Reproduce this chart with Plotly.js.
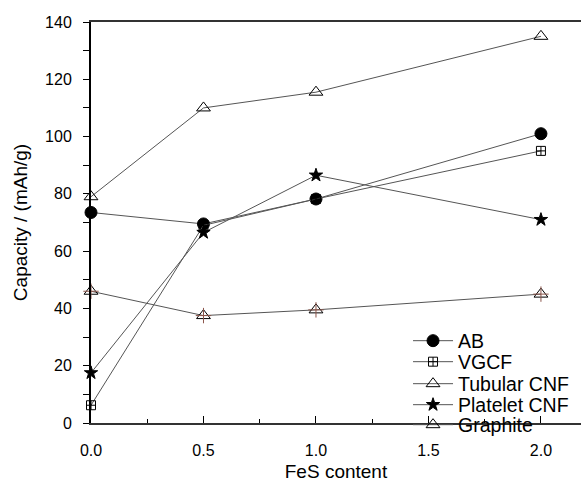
<!DOCTYPE html>
<html>
<head>
<meta charset="utf-8">
<script src="https://cdn.plot.ly/plotly-3.0.1.min.js"></script>
<style>html,body{margin:0;padding:0;background:#fff;}#chart{width:581px;height:482px;}</style>
</head>
<body>
<div id="chart"></div>
<script>
const feS = [0, 0.5, 1.0, 2.0];
const abCap = [73.5, 69.5, 78.2, 101];
const vgcfCap = [6.2, 69, 78.2, 95];
const tubularCap = [79, 110, 115.5, 135];
const plateletCap = [17.5, 66.5, 86.5, 71];
const graphiteCap = [46, 37.5, 39.5, 45];
const xTickVals = [0, 0.5, 1.0, 1.5, 2.0];
const xTickText = ['0.0', '0.5', '1.0', '1.5', '2.0'];

const lineStyle = {color: '#555', width: 1};
function series(name, y, symbol, size, legendId) {
  return {
    x: feS, y: y, name: name, type: 'scatter', mode: 'lines+markers',
    line: lineStyle, cliponaxis: false, legend: legendId,
    marker: {symbol: symbol, size: size, color: '#000', line: {color: '#000', width: 1}}
  };
}
const traces = [
  series('AB', abCap, 'circle', 12, 'legend'),
  series('VGCF', vgcfCap, 'square-cross-open', 9, 'legend2'),
  series('Tubular CNF', tubularCap, 'triangle-up-open', 12, 'legend3'),
  series('Platelet CNF', plateletCap, 'star', 10, 'legend4'),
  series('Graphite', graphiteCap, 'triangle-up-open', 12, 'legend5'),
  {x: feS, y: graphiteCap, type: 'scatter', mode: 'markers', showlegend: false, cliponaxis: false,
   marker: {symbol: 'cross-thin-open', size: 11, line: {color: '#000', width: 1}}}
];

function leg(yc) {
  return {x: 0.647, xanchor: 'left', y: (423 - yc) / 401, yanchor: 'middle',
          bgcolor: 'rgba(0,0,0,0)', font: {size: 19.5}, itemwidth: 40, borderwidth: 0};
}

const layout = {
  width: 581, height: 482,
  margin: {l: 91, r: 0, t: 22, b: 59},
  paper_bgcolor: '#fff', plot_bgcolor: '#fff',
  font: {family: 'Liberation Sans, Arial, sans-serif', size: 16, color: '#000'},
  showlegend: true,
  legend: leg(341), legend2: leg(362), legend3: leg(384), legend4: leg(405), legend5: leg(425),
  xaxis: {
    range: [0, 2.178], tickvals: xTickVals, ticktext: xTickText,
    ticks: 'inside', ticklen: 7, tickwidth: 1, tickcolor: '#000', ticklabelstandoff: 12,
    minor: {dtick: 0.25, tick0: 0, ticks: 'inside', ticklen: 4, tickcolor: '#000'},
    showgrid: false, zeroline: false, showline: true, linecolor: '#333', linewidth: 2, mirror: true,
    title: {text: 'FeS content', font: {size: 19}, standoff: 8}
  },
  yaxis: {
    range: [0, 140], dtick: 20, tick0: 0,
    ticks: 'outside', ticklen: 6, tickwidth: 1, tickcolor: '#000', ticklabelstandoff: 8,
    minor: {dtick: 10, tick0: 0, ticks: 'outside', ticklen: 6, tickcolor: '#000'},
    showgrid: false, zeroline: false, showline: true, linecolor: '#000', linewidth: 2,
    title: {text: 'Capacity / (mAh/g)', font: {size: 19}, standoff: 12}
  }
};
Plotly.newPlot('chart', traces, layout, {displayModeBar: false, staticPlot: true});
</script>
</body>
</html>
